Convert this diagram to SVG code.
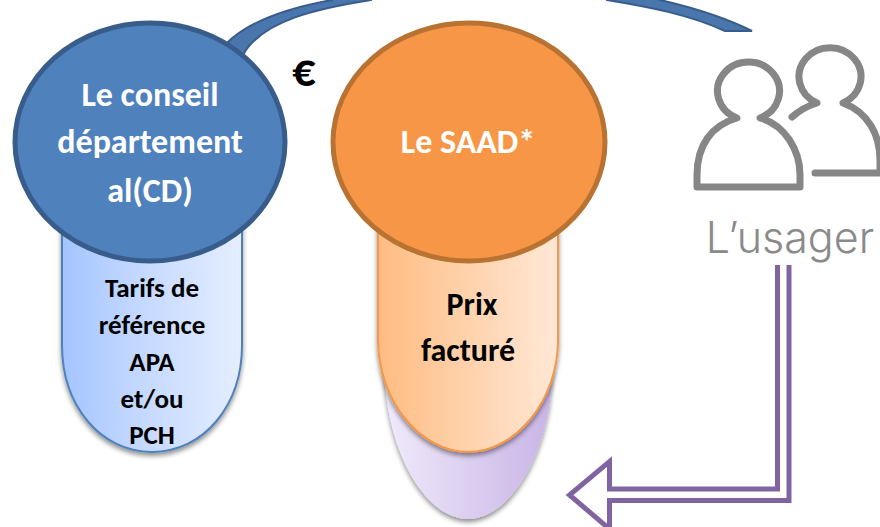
<svg xmlns="http://www.w3.org/2000/svg" width="880" height="527" viewBox="0 0 880 527">
<defs>
<linearGradient id="gb" x1="0" x2="1" y1="0" y2="0"><stop offset="0" stop-color="#a3c4ff"/><stop offset="0.35" stop-color="#bfd5ff"/><stop offset="1" stop-color="#e5eeff"/></linearGradient>
<linearGradient id="go" x1="0" x2="1" y1="0" y2="0"><stop offset="0" stop-color="#ffbc82"/><stop offset="1" stop-color="#ffe8d6"/></linearGradient>
<linearGradient id="gp" x1="0" x2="1" y1="0" y2="0"><stop offset="0" stop-color="#f0eafa"/><stop offset="1" stop-color="#c8b4e6"/></linearGradient>
<filter id="sh" x="-20%" y="-20%" width="140%" height="140%"><feGaussianBlur in="SourceAlpha" stdDeviation="2.5"/><feOffset dy="3"/><feComponentTransfer><feFuncA type="linear" slope="0.45"/></feComponentTransfer><feMerge><feMergeNode/><feMergeNode in="SourceGraphic"/></feMerge></filter>
</defs>
<style>
.b{font-family:"Carlito","Open Sans","Liberation Sans",sans-serif;font-weight:700;text-anchor:middle}
.w{fill:#fff;font-size:34px}
.k{fill:#000;font-size:27px}
.i{fill:none;stroke:#868686;stroke-width:7;stroke-linecap:round;stroke-linejoin:round}
</style>
<rect width="880" height="527" fill="#fff"/>
<g id="connectors">
<path d="M227 43C248 22 288 8 332 0L332 -10L660 -10L660 0C695 8 730 20 752 31L725 31C690 15 650 7 607 0L607 -5L371 -5L371 0C320 8 262 20 243 55Z" fill="#4a76ae" stroke="#385d8a" stroke-width="2"/>
<path d="M777.5 265V489H609.5V461.500L569.500 495L609.500 529V500.500H789V265" fill="#fff" stroke="#8064a2" stroke-width="5"/>
</g>
<g id="node-facture-shadow">
<path d="M384 360C384 450 425 519 468 519C511 519 553 450 553 360Z" fill="url(#gp)" filter="url(#sh)"/>
</g>
<g id="node-cd-detail">
<path d="M62 200V345C62 405 100 452 152 452C204 452 242 405 242 345V200Z" fill="url(#gb)" stroke="#4f81bd" stroke-width="2" filter="url(#sh)"/>
<text class="b k" x="152" y="297">Tarifs de</text>
<text class="b k" x="152" y="334">référence</text>
<text class="b k" x="152" y="371">APA</text>
<text class="b k" x="152" y="408">et/ou</text>
<text class="b k" x="152" y="444">PCH</text>
</g>
<g id="node-saad-detail">
<path d="M378 200V340C378 400 420 452 468 452C516 452 558 400 558 340V200Z" fill="url(#go)" stroke="#f79646" stroke-width="2" filter="url(#sh)"/>
<text class="b" x="472" y="315" font-size="32">Prix</text>
<text class="b" x="468" y="361" font-size="32">facturé</text>
</g>
<g id="node-cd">
<ellipse cx="150" cy="142" rx="135" ry="119" fill="#4f81bd" stroke="#385d8a" stroke-width="5"/>
<text class="b w" x="150" y="106">Le conseil</text>
<text class="b w" x="150" y="153">département</text>
<text class="b w" x="150" y="202">al(CD)</text>
</g>
<g id="node-saad">
<ellipse cx="469" cy="142" rx="136" ry="119" fill="#f79646" stroke="#b87333" stroke-width="5"/>
<text class="b w" x="468" y="153">Le SAAD*</text>
</g>
<text class="b" x="304" y="86" font-size="46" fill="#000">€</text>
<g id="node-usager">
<path class="i" d="M737 118A31 29 0 1 1 760 118C785 125 800 150 800 175V187H697V175C697 145 712 125 737 118Z"/>
<path class="i" d="M792 117C800 110 807 106 817 103A31 29 0 1 1 843 103C868 112 880 135 880 160V173H815"/>
<text x="790" y="253" font-family="Inter,'Open Sans',sans-serif" font-weight="300" font-size="43" fill="#8a8a8a" text-anchor="middle">L’usager</text>
</g>
</svg>
